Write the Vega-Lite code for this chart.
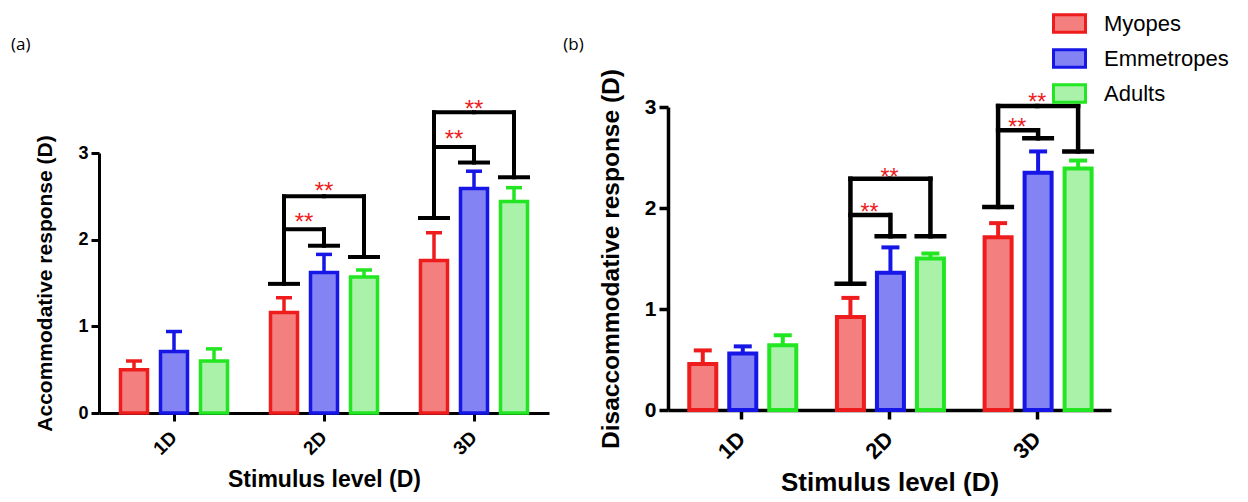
{
  "$schema": "https://vega.github.io/schema/vega-lite/v6.json",
  "background": "white",
  "padding": {"left": 10, "top": 6, "right": 0, "bottom": 0},
  "spacing": 14,
  "config": {
    "font": "Liberation Sans",
    "view": {"stroke": null},
    "axis": {"domainColor": "black", "tickColor": "black", "labelColor": "black", "titleColor": "black", "labelFontWeight": "bold", "titleFontWeight": "bold", "grid": false, "labelFont": "Liberation Sans", "titleFont": "Liberation Sans"}
  },
  "datasets": {
    "barsA": [
      {"stimulus": "1D", "group": "Myopes", "response": 0.50, "upper": 0.60},
      {"stimulus": "1D", "group": "Emmetropes", "response": 0.71, "upper": 0.94},
      {"stimulus": "1D", "group": "Adults", "response": 0.60, "upper": 0.74},
      {"stimulus": "2D", "group": "Myopes", "response": 1.16, "upper": 1.33},
      {"stimulus": "2D", "group": "Emmetropes", "response": 1.62, "upper": 1.83},
      {"stimulus": "2D", "group": "Adults", "response": 1.57, "upper": 1.65},
      {"stimulus": "3D", "group": "Myopes", "response": 1.76, "upper": 2.08},
      {"stimulus": "3D", "group": "Emmetropes", "response": 2.59, "upper": 2.79},
      {"stimulus": "3D", "group": "Adults", "response": 2.44, "upper": 2.60}
    ],
    "barsB": [
      {"stimulus": "1D", "group": "Myopes", "response": 0.455, "upper": 0.59},
      {"stimulus": "1D", "group": "Emmetropes", "response": 0.56, "upper": 0.63},
      {"stimulus": "1D", "group": "Adults", "response": 0.64, "upper": 0.74},
      {"stimulus": "2D", "group": "Myopes", "response": 0.92, "upper": 1.11},
      {"stimulus": "2D", "group": "Emmetropes", "response": 1.36, "upper": 1.61},
      {"stimulus": "2D", "group": "Adults", "response": 1.50, "upper": 1.55},
      {"stimulus": "3D", "group": "Myopes", "response": 1.71, "upper": 1.85},
      {"stimulus": "3D", "group": "Emmetropes", "response": 2.35, "upper": 2.56},
      {"stimulus": "3D", "group": "Adults", "response": 2.39, "upper": 2.47}
    ],
    "linksA": [
      {"stimulus": "2D", "group": "Myopes", "level": 1.49, "level2": 2.50},
      {"stimulus": "2D", "group": "Emmetropes", "level": 1.93, "level2": 2.12},
      {"stimulus": "2D", "group": "Adults", "level": 1.80, "level2": 2.50},
      {"stimulus": "3D", "group": "Myopes", "level": 2.25, "level2": 3.47},
      {"stimulus": "3D", "group": "Emmetropes", "level": 2.89, "level2": 3.07},
      {"stimulus": "3D", "group": "Adults", "level": 2.72, "level2": 3.47}
    ],
    "linksB": [
      {"stimulus": "2D", "group": "Myopes", "level": 1.25, "level2": 2.29},
      {"stimulus": "2D", "group": "Emmetropes", "level": 1.72, "level2": 1.93},
      {"stimulus": "2D", "group": "Adults", "level": 1.72, "level2": 2.29},
      {"stimulus": "3D", "group": "Myopes", "level": 2.01, "level2": 3.01},
      {"stimulus": "3D", "group": "Emmetropes", "level": 2.69, "level2": 2.77},
      {"stimulus": "3D", "group": "Adults", "level": 2.56, "level2": 3.01}
    ],
    "spansA": [
      {"stimulus": "2D", "group": "Myopes", "level": 2.12},
      {"stimulus": "2D", "group": "Myopes", "level": 2.50},
      {"stimulus": "2D", "group": "Adults", "level": 2.50},
      {"stimulus": "3D", "group": "Myopes", "level": 3.07},
      {"stimulus": "3D", "group": "Myopes", "level": 3.47},
      {"stimulus": "3D", "group": "Adults", "level": 3.47}
    ],
    "spansB": [
      {"stimulus": "2D", "group": "Myopes", "level": 1.93},
      {"stimulus": "2D", "group": "Myopes", "level": 2.29},
      {"stimulus": "2D", "group": "Adults", "level": 2.29},
      {"stimulus": "3D", "group": "Myopes", "level": 2.77},
      {"stimulus": "3D", "group": "Myopes", "level": 3.01},
      {"stimulus": "3D", "group": "Adults", "level": 3.01}
    ],
    "starsA": [
      {"stimulus": "2D", "comparison": "Myopes vs Emmetropes", "level": 2.27, "label": "**"},
      {"stimulus": "2D", "comparison": "Myopes vs Adults", "level": 2.63, "label": "**"},
      {"stimulus": "3D", "comparison": "Myopes vs Emmetropes", "level": 3.23, "label": "**"},
      {"stimulus": "3D", "comparison": "Myopes vs Adults", "level": 3.58, "label": "**"}
    ],
    "starsB": [
      {"stimulus": "2D", "comparison": "Myopes vs Emmetropes", "level": 2.02, "label": "**"},
      {"stimulus": "2D", "comparison": "Myopes vs Adults", "level": 2.37, "label": "**"},
      {"stimulus": "3D", "comparison": "Myopes vs Emmetropes", "level": 2.86, "label": "**"},
      {"stimulus": "3D", "comparison": "Myopes vs Adults", "level": 3.11, "label": "**"}
    ]
  },
  "hconcat": [
    {
      "width": 450,
      "height": 306,
      "title": {"text": "(a)", "anchor": "start", "frame": "bounds", "dx": -24, "offset": 44, "fontSize": 17, "font": "Open Sans", "fontWeight": "normal", "color": "black"},
      "encoding": {
        "x": {"field": "stimulus", "type": "nominal", "scale": {"domain": ["1D", "2D", "3D"], "paddingInner": 0.2, "paddingOuter": 0.1},
          "axis": {"title": "Stimulus level (D)", "labelAngle": -45, "labelAlign": "right", "labelBaseline": "middle", "labelFontSize": 19, "labelPadding": 13, "titleFontSize": 23, "titlePadding": 10, "domainWidth": 3, "tickWidth": 3, "tickSize": 8}}
      },
      "layer": [
        {
          "data": {"name": "barsA"},
          "mark": {"type": "bar", "strokeWidth": 3.5},
          "encoding": {
            "xOffset": {"field": "group", "type": "nominal", "scale": {"domain": ["Myopes", "Emmetropes", "Adults"], "paddingInner": 0.325, "paddingOuter": 0.1625}},
            "y": {"field": "response", "type": "quantitative", "scale": {"domain": [0, 3], "nice": false, "range": [306, 46]},
              "axis": {"title": "Accommodative response (D)", "values": [0, 1, 2, 3], "format": "d", "labelFontSize": 18, "labelPadding": 3, "titleFontSize": 21, "titlePadding": 22, "domainWidth": 3, "tickWidth": 3, "tickSize": 8}},
            "fill": {"field": "group", "type": "nominal", "scale": {"domain": ["Myopes", "Emmetropes", "Adults"], "range": ["#f37f7f", "#8383f4", "#aaf2aa"]},
              "legend": {"orient": "none", "legendX": 953, "legendY": -101, "title": null, "symbolType": "M-1,-0.55H1V0.55H-1Z", "symbolSize": 1024, "symbolStrokeWidth": 3, "labelFontSize": 22, "labelFont": "Liberation Sans", "labelColor": "black", "rowPadding": 2, "labelOffset": 17, "direction": "vertical"}},
            "stroke": {"field": "group", "type": "nominal", "scale": {"domain": ["Myopes", "Emmetropes", "Adults"], "range": ["#ee1c1c", "#1616e6", "#22e622"]},
              "legend": {"orient": "none", "legendX": 953, "legendY": -101, "title": null, "symbolType": "M-1,-0.55H1V0.55H-1Z", "symbolSize": 1024, "symbolStrokeWidth": 3, "labelFontSize": 22, "labelFont": "Liberation Sans", "labelColor": "black", "rowPadding": 2, "labelOffset": 17, "direction": "vertical"}}
          }
        },
        {
          "data": {"name": "barsA"},
          "mark": {"type": "rule", "strokeWidth": 3.5},
          "encoding": {
            "xOffset": {"field": "group", "type": "nominal"},
            "y": {"field": "response", "type": "quantitative", "title": "Accommodative response (D)"},
            "y2": {"field": "upper"},
            "color": {"field": "group", "type": "nominal", "scale": {"domain": ["Myopes", "Emmetropes", "Adults"], "range": ["#ee1c1c", "#1616e6", "#22e622"]}, "legend": null}
          }
        },
        {
          "data": {"name": "barsA"},
          "mark": {"type": "tick", "size": 16, "thickness": 3.5, "opacity": 1},
          "encoding": {
            "xOffset": {"field": "group", "type": "nominal"},
            "y": {"field": "upper", "type": "quantitative", "title": "Accommodative response (D)"},
            "color": {"field": "group", "type": "nominal", "legend": null}
          }
        },
        {
          "data": {"name": "linksA"},
          "mark": {"type": "tick", "size": 32, "thickness": 4, "color": "black", "opacity": 1},
          "encoding": {
            "xOffset": {"field": "group", "type": "nominal"},
            "y": {"field": "level", "type": "quantitative", "title": "Accommodative response (D)"}
          }
        },
        {
          "data": {"name": "linksA"},
          "mark": {"type": "rule", "strokeWidth": 4, "color": "black", "strokeCap": "square"},
          "encoding": {
            "xOffset": {"field": "group", "type": "nominal"},
            "y": {"field": "level", "type": "quantitative", "title": "Accommodative response (D)"},
            "y2": {"field": "level2"}
          }
        },
        {
          "data": {"name": "spansA"},
          "mark": {"type": "rule", "strokeWidth": 4, "color": "black", "strokeCap": "square"},
          "encoding": {
            "xOffset": {"field": "group", "type": "nominal"},
            "x2": {"field": "stimulus", "bandPosition": 0.5},
            "y": {"field": "level", "type": "quantitative", "title": "Accommodative response (D)"}
          }
        },
        {
          "data": {"name": "starsA"},
          "transform": [{"filter": "datum.comparison === 'Myopes vs Emmetropes'"}],
          "mark": {"type": "text", "color": "#ee1c1c", "fontSize": 24, "font": "Liberation Sans", "baseline": "middle", "dx": -20, "dy": 7},
          "encoding": {
            "y": {"field": "level", "type": "quantitative", "title": "Accommodative response (D)"},
            "text": {"field": "label"}
          }
        },
        {
          "data": {"name": "starsA"},
          "transform": [{"filter": "datum.comparison === 'Myopes vs Adults'"}],
          "mark": {"type": "text", "color": "#ee1c1c", "fontSize": 24, "font": "Liberation Sans", "baseline": "middle", "dy": 7},
          "encoding": {
            "y": {"field": "level", "type": "quantitative", "title": "Accommodative response (D)"},
            "text": {"field": "label"}
          }
        }
      ]
    },
    {
      "width": 443,
      "height": 303,
      "title": {"text": "(b)", "anchor": "start", "frame": "bounds", "dx": -35, "offset": 15, "fontSize": 17, "font": "Open Sans", "fontWeight": "normal", "color": "black"},
      "encoding": {
        "x": {"field": "stimulus", "type": "nominal", "scale": {"domain": ["1D", "2D", "3D"], "paddingInner": 0.2, "paddingOuter": 0.1},
          "axis": {"title": "Stimulus level (D)", "labelAngle": -45, "labelAlign": "right", "labelBaseline": "middle", "labelFontSize": 22, "labelPadding": 16, "titleFontSize": 26, "titlePadding": 7, "domainWidth": 3.5, "tickWidth": 3.5, "tickSize": 9}}
      },
      "layer": [
        {
          "data": {"name": "barsB"},
          "mark": {"type": "bar", "strokeWidth": 4},
          "encoding": {
            "xOffset": {"field": "group", "type": "nominal", "scale": {"domain": ["Myopes", "Emmetropes", "Adults"], "paddingInner": 0.325, "paddingOuter": 0.1625}},
            "y": {"field": "response", "type": "quantitative", "scale": {"domain": [0, 3], "nice": false},
              "axis": {"title": "Disaccommodative response (D)", "values": [0, 1, 2, 3], "format": "d", "labelFontSize": 21, "labelPadding": 3, "titleFontSize": 24.5, "titlePadding": 21, "domainWidth": 3.5, "tickWidth": 3.5, "tickSize": 9}},
            "fill": {"field": "group", "type": "nominal"},
            "stroke": {"field": "group", "type": "nominal"}
          }
        },
        {
          "data": {"name": "barsB"},
          "mark": {"type": "rule", "strokeWidth": 4},
          "encoding": {
            "xOffset": {"field": "group", "type": "nominal"},
            "y": {"field": "response", "type": "quantitative", "title": "Disaccommodative response (D)"},
            "y2": {"field": "upper"},
            "color": {"field": "group", "type": "nominal", "legend": null}
          }
        },
        {
          "data": {"name": "barsB"},
          "mark": {"type": "tick", "size": 18, "thickness": 4, "opacity": 1},
          "encoding": {
            "xOffset": {"field": "group", "type": "nominal"},
            "y": {"field": "upper", "type": "quantitative", "title": "Disaccommodative response (D)"},
            "color": {"field": "group", "type": "nominal", "legend": null}
          }
        },
        {
          "data": {"name": "linksB"},
          "mark": {"type": "tick", "size": 32, "thickness": 4.5, "color": "black", "opacity": 1},
          "encoding": {
            "xOffset": {"field": "group", "type": "nominal"},
            "y": {"field": "level", "type": "quantitative", "title": "Disaccommodative response (D)"}
          }
        },
        {
          "data": {"name": "linksB"},
          "mark": {"type": "rule", "strokeWidth": 4.5, "color": "black", "strokeCap": "square"},
          "encoding": {
            "xOffset": {"field": "group", "type": "nominal"},
            "y": {"field": "level", "type": "quantitative", "title": "Disaccommodative response (D)"},
            "y2": {"field": "level2"}
          }
        },
        {
          "data": {"name": "spansB"},
          "mark": {"type": "rule", "strokeWidth": 4.5, "color": "black", "strokeCap": "square"},
          "encoding": {
            "xOffset": {"field": "group", "type": "nominal"},
            "x2": {"field": "stimulus", "bandPosition": 0.5},
            "y": {"field": "level", "type": "quantitative", "title": "Disaccommodative response (D)"}
          }
        },
        {
          "data": {"name": "starsB"},
          "transform": [{"filter": "datum.comparison === 'Myopes vs Emmetropes'"}],
          "mark": {"type": "text", "color": "#ee1c1c", "fontSize": 23, "font": "Liberation Sans", "baseline": "middle", "dx": -20, "dy": 7},
          "encoding": {
            "y": {"field": "level", "type": "quantitative", "title": "Disaccommodative response (D)"},
            "text": {"field": "label"}
          }
        },
        {
          "data": {"name": "starsB"},
          "transform": [{"filter": "datum.comparison === 'Myopes vs Adults'"}],
          "mark": {"type": "text", "color": "#ee1c1c", "fontSize": 23, "font": "Liberation Sans", "baseline": "middle", "dy": 7},
          "encoding": {
            "y": {"field": "level", "type": "quantitative", "title": "Disaccommodative response (D)"},
            "text": {"field": "label"}
          }
        }
      ]
    }
  ],
  "resolve": {"scale": {"x": "independent", "y": "independent", "fill": "shared", "stroke": "shared", "color": "shared"}}
}
